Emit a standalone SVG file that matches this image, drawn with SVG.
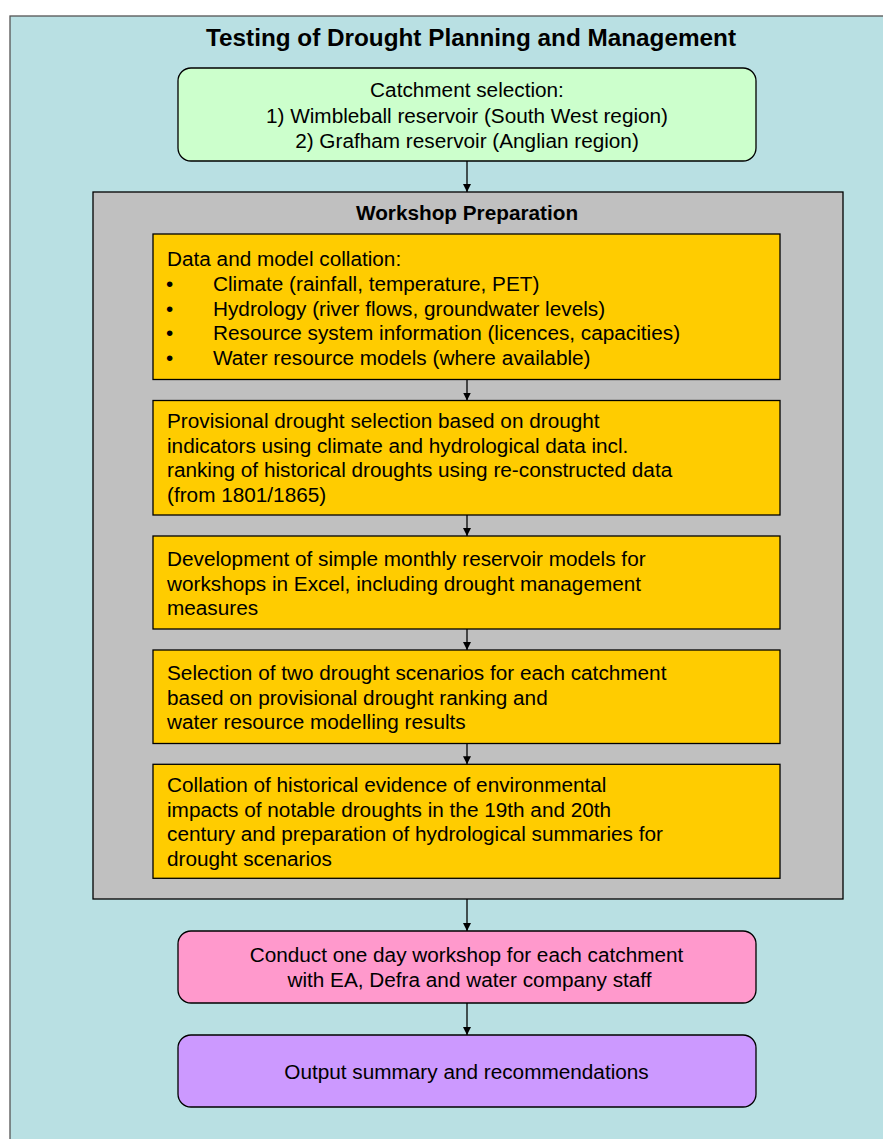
<svg xmlns="http://www.w3.org/2000/svg" width="883" height="1139" viewBox="0 0 883 1139">
<defs>
<style>
.t{font-family:"Liberation Sans",Arial,sans-serif;font-size:20.75px;fill:#000}
.c{text-anchor:middle}
.b{font-weight:bold}
.box{stroke:#000;stroke-width:1.3}
.conn line{stroke:#000;stroke-width:1.3}
</style>
<marker id="ah" viewBox="0 0 10 10" refX="10" refY="5" markerWidth="8" markerHeight="9" markerUnits="userSpaceOnUse" orient="auto"><path d="M0,0 L10,5 L0,10 z" fill="#000"/></marker>
</defs>
<rect width="883" height="1139" fill="#fff"/>
<rect x="10" y="16" width="880" height="1130" fill="#B9E0E3" stroke="#555" stroke-width="1.3"/>
<text class="t b c" x="471" y="46" style="font-size:24.3px">Testing of Drought Planning and Management</text>
<g id="catchment">
<rect class="box" x="178" y="68" width="578" height="93" rx="13" fill="#CCFFCC"/>
<text class="t c" x="467" y="97">Catchment selection:</text>
<text class="t c" x="467" y="122.5">1) Wimbleball reservoir (South West region)</text>
<text class="t c" x="467" y="148">2) Grafham reservoir (Anglian region)</text>
</g>
<g id="workshop-prep">
<rect class="box" x="93" y="192" width="750" height="707" fill="#C0C0C0"/>
<text class="t b c" x="467" y="220">Workshop Preparation</text>
</g>
<g id="data">
<rect class="box" x="153" y="234" width="627" height="145.5" fill="#FFCC00"/>
<text class="t" x="167" y="266">Data and model collation:</text>
<text class="t" x="166" y="291">•</text><text class="t" x="213" y="291">Climate (rainfall, temperature, PET)</text>
<text class="t" x="166" y="315.5">•</text><text class="t" x="213" y="315.5">Hydrology (river flows, groundwater levels)</text>
<text class="t" x="166" y="340">•</text><text class="t" x="213" y="340">Resource system information (licences, capacities)</text>
<text class="t" x="166" y="365">•</text><text class="t" x="213" y="365">Water resource models (where available)</text>
</g>
<g id="provisional">
<rect class="box" x="153" y="400.5" width="627" height="114.5" fill="#FFCC00"/>
<text class="t" x="167" y="428">Provisional drought selection based on drought</text>
<text class="t" x="167" y="452.7">indicators using climate and hydrological data incl.</text>
<text class="t" x="167" y="477.3">ranking of historical droughts using re-constructed data</text>
<text class="t" x="167" y="502">(from 1801/1865)</text>
</g>
<g id="models">
<rect class="box" x="153" y="536" width="627" height="93" fill="#FFCC00"/>
<text class="t" x="167" y="566">Development of simple monthly reservoir models for</text>
<text class="t" x="167" y="590.5">workshops in Excel, including drought management</text>
<text class="t" x="167" y="615">measures</text>
</g>
<g id="scenarios">
<rect class="box" x="153" y="650" width="627" height="93.5" fill="#FFCC00"/>
<text class="t" x="167" y="680">Selection of two drought scenarios for each catchment</text>
<text class="t" x="167" y="704.7">based on provisional drought ranking and</text>
<text class="t" x="167" y="729.4">water resource modelling results</text>
</g>
<g id="evidence">
<rect class="box" x="153" y="764.3" width="627" height="114" fill="#FFCC00"/>
<text class="t" x="167" y="791.7">Collation of historical evidence of environmental</text>
<text class="t" x="167" y="816.5">impacts of notable droughts in the 19th and 20th</text>
<text class="t" x="167" y="841.3">century and preparation of hydrological summaries for</text>
<text class="t" x="167" y="866">drought scenarios</text>
</g>
<g id="workshop">
<rect class="box" x="178" y="931" width="578" height="72" rx="13" fill="#FF99CC"/>
<text class="t c" x="466.5" y="962">Conduct one day workshop for each catchment</text>
<text class="t c" x="469.5" y="987">with EA, Defra and water company staff</text>
</g>
<g id="output">
<rect class="box" x="178" y="1035" width="578" height="72" rx="13" fill="#CC99FF"/>
<text class="t c" x="466.5" y="1079">Output summary and recommendations</text>
</g>
<g class="conn">
<line x1="467" y1="161" x2="467" y2="192" marker-end="url(#ah)"/>
<line x1="467" y1="379.5" x2="467" y2="400.5" marker-end="url(#ah)"/>
<line x1="467" y1="515" x2="467" y2="536" marker-end="url(#ah)"/>
<line x1="467" y1="629" x2="467" y2="650" marker-end="url(#ah)"/>
<line x1="467" y1="743.5" x2="467" y2="764.3" marker-end="url(#ah)"/>
<line x1="467" y1="899" x2="467" y2="931" marker-end="url(#ah)"/>
<line x1="467" y1="1003" x2="467" y2="1035" marker-end="url(#ah)"/>
</g>
</svg>
